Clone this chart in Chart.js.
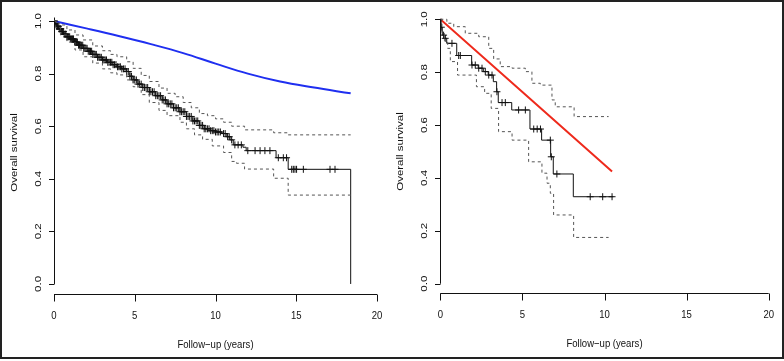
<!DOCTYPE html>
<html>
<head>
<meta charset="utf-8">
<script src="https://cdn.jsdelivr.net/npm/chart.js@4.4.1/dist/chart.umd.min.js"></script>
<style>
html, body { margin: 0; padding: 0; background: #fff; }
.panel { position: absolute; top: 0; width: 392px; height: 361px; }
#frame { position: absolute; left: 0; top: 0; width: 780px; height: 355px; border: 2px solid #222; pointer-events: none; }
</style>
</head>
<body>
<div class="panel" style="left:0"><canvas id="leftChart" width="392" height="361"></canvas></div>
<div class="panel" style="left:392px"><canvas id="rightChart" width="392" height="361"></canvas></div>
<div id="frame"></div>
<script>
// tick labels
const xTicks = [0, 5, 10, 15, 20];
const yTicks = [0, 0.2, 0.4, 0.6, 0.8, 1.0];
const xTitle = 'Follow\u2212up (years)';
const yTitle = 'Overall survival';

// left panel: Kaplan-Meier (drop points), 95% CI, expected survival
const leftTime = [0, 0.05, 0.15, 0.3, 0.45, 0.6, 0.8, 1.0, 1.25, 1.5, 1.8, 2.1, 2.4, 2.7, 3.0, 3.3, 3.6, 3.9, 4.2, 4.5, 4.7, 4.9, 5.2, 5.5, 5.9, 6.3, 6.7, 7.0, 7.4, 7.8, 8.2, 8.6, 9.0, 9.3, 9.7, 10.0, 10.4, 10.7, 10.9, 11.1, 11.7, 11.9, 13.75, 14.5, 18.37, 18.37];
const leftSurv = [1.0, 0.99, 0.98, 0.97, 0.96, 0.95, 0.94, 0.932, 0.92, 0.908, 0.896, 0.885, 0.873, 0.862, 0.852, 0.843, 0.834, 0.826, 0.818, 0.808, 0.79, 0.776, 0.76, 0.747, 0.731, 0.716, 0.7, 0.685, 0.67, 0.655, 0.637, 0.62, 0.603, 0.59, 0.583, 0.578, 0.572, 0.56, 0.548, 0.529, 0.52, 0.507, 0.48, 0.436, 0.436, 0.0];
const leftUpperTime = [0, 0.3, 0.8, 1.3, 1.8, 2.4, 3.0, 3.5, 3.9, 4.5, 4.9, 5.4, 5.9, 6.5, 7.0, 7.5, 8.0, 8.5, 9.0, 9.5, 10.0, 10.5, 11.0, 11.8, 13.6, 14.5, 18.37];
const leftUpper = [1.0, 0.985, 0.966, 0.947, 0.928, 0.905, 0.887, 0.873, 0.864, 0.845, 0.82, 0.793, 0.77, 0.745, 0.725, 0.712, 0.69, 0.67, 0.648, 0.64, 0.628, 0.615, 0.6, 0.586, 0.575, 0.567, 0.567];
const leftLowerTime = [0, 0.1, 0.4, 0.8, 1.3, 1.8, 2.4, 3.0, 3.5, 3.9, 4.5, 4.9, 5.4, 5.9, 6.5, 7.0, 7.8, 8.2, 8.7, 9.2, 9.8, 10.5, 11.0, 11.3, 11.8, 13.6, 14.5, 18.37];
const leftLower = [1.0, 0.975, 0.947, 0.92, 0.89, 0.864, 0.84, 0.818, 0.803, 0.795, 0.776, 0.75, 0.72, 0.69, 0.66, 0.64, 0.615, 0.59, 0.567, 0.55, 0.525, 0.5, 0.466, 0.459, 0.437, 0.402, 0.338, 0.338];
const leftCensor = [0.03, 0.08, 0.12, 0.17, 0.22, 0.27, 0.32, 0.37, 0.42, 0.48, 0.53, 0.58, 0.63, 0.69, 0.74, 0.8, 0.85, 0.91, 0.97, 1.03, 1.09, 1.15, 1.21, 1.27, 1.33, 1.39, 1.45, 1.52, 1.58, 1.65, 1.71, 1.78, 1.84, 1.91, 1.98, 2.05, 2.12, 2.19, 2.26, 2.33, 2.4, 2.48, 2.55, 2.62, 2.7, 2.78, 2.85, 2.93, 3.01, 3.09, 3.17, 3.25, 3.33, 3.41, 3.5, 3.58, 3.66, 3.75, 3.84, 3.93, 4.02, 4.11, 4.2, 4.3, 4.4, 4.5, 4.6, 4.7, 4.8, 4.9, 5.0, 5.1, 5.2, 5.3, 5.4, 5.5, 5.6, 5.7, 5.8, 5.9, 6.0, 6.1, 6.2, 6.3, 6.4, 6.5, 6.6, 6.7, 6.8, 6.9, 7.0, 7.1, 7.2, 7.3, 7.4, 7.5, 7.6, 7.7, 7.8, 7.9, 8.0, 8.1, 8.2, 8.3, 8.4, 8.5, 8.6, 8.7, 8.8, 8.9, 9.0, 9.1, 9.2, 9.3, 9.4, 9.5, 9.6, 9.7, 9.8, 9.9, 10.0, 10.1, 10.2, 10.3, 10.5, 10.6, 10.75, 10.85, 11.0, 11.2, 11.4, 11.6, 12.0, 12.45, 12.76, 13.06, 13.37, 13.89, 14.2, 14.4, 14.72, 14.82, 14.92, 15.02, 15.44, 17.09, 17.4];
const leftExpTime = [0, 2, 4, 6, 8, 10, 12, 14, 16, 18.37];
const leftExp = [1.0, 0.972, 0.943, 0.912, 0.878, 0.838, 0.8, 0.77, 0.748, 0.725];

// right panel
const rightTime = [0, 0.05, 0.12, 0.29, 0.39, 1.0, 1.91, 2.31, 2.62, 2.92, 3.23, 3.43, 3.53, 4.35, 5.46, 6.17, 6.72, 6.88, 8.1, 10.54];
const rightSurv = [1.0, 0.97, 0.94, 0.928, 0.909, 0.863, 0.827, 0.815, 0.802, 0.789, 0.764, 0.726, 0.685, 0.657, 0.585, 0.543, 0.48, 0.415, 0.329, 0.329];
const rightUpperTime = [0, 0.4, 0.82, 1.52, 2.34, 2.95, 3.25, 3.65, 4.37, 5.18, 5.58, 6.09, 6.8, 7.0, 8.15, 10.25];
const rightUpper = [1.0, 0.985, 0.972, 0.947, 0.934, 0.89, 0.85, 0.821, 0.815, 0.802, 0.758, 0.751, 0.695, 0.669, 0.632, 0.632];
const rightLowerTime = [0, 0.1, 0.25, 0.45, 0.61, 1.05, 2.2, 2.7, 3.1, 3.55, 4.37, 5.38, 6.19, 6.5, 6.7, 6.9, 8.12, 10.25];
const rightLower = [1.0, 0.95, 0.92, 0.89, 0.84, 0.789, 0.745, 0.72, 0.663, 0.575, 0.543, 0.461, 0.418, 0.38, 0.342, 0.26, 0.175, 0.175];
const rightCensor = [0.06, 0.2, 0.3, 0.71, 1.12, 1.22, 1.93, 2.13, 2.34, 2.54, 2.74, 2.95, 3.15, 3.45, 3.76, 3.96, 4.77, 5.18, 5.69, 5.9, 6.1, 6.7, 6.76, 7.1, 9.13, 9.89, 10.46];
const rightExpTime = [0, 5, 10.46];
const rightExp = [1.0, 0.725, 0.424];

function pts(xs, ys) {
    return xs.map((t, i) => ({ x: t, y: ys[i] }));
}

// survival value at time t from a step curve
function survAt(xs, ys, t) {
    let s = ys[0];
    for (let i = 0; i < xs.length; i++) {
        if (xs[i] <= t) s = ys[i]; else break;
    }
    return s;
}

function squeezedText(ctx, s, x, y, rotate) {
    ctx.save();
    ctx.translate(x, y);
    ctx.scale(0.83, 1);
    if (rotate) ctx.rotate(-Math.PI / 2);
    ctx.textAlign = 'center';
    ctx.textBaseline = 'middle';
    ctx.fillText(s, 0, 0);
    ctx.restore();
}

// R style axes drawn from the chart scales
const rAxes = {
    id: 'rAxes',
    afterDraw(chart) {
        const ctx = chart.ctx;
        const xs = chart.scales.x, ys = chart.scales.y;
        const bottom = Math.round(chart.chartArea.bottom) - 0.5;
        const left = Math.round(xs.getPixelForValue(0)) + 0.5;
        ctx.save();
        ctx.strokeStyle = '#111';
        ctx.lineWidth = 1;
        ctx.beginPath();
        ctx.moveTo(xs.getPixelForValue(xTicks[0]), bottom);
        ctx.lineTo(xs.getPixelForValue(xTicks[xTicks.length - 1]), bottom);
        xTicks.forEach(v => {
            const px = Math.round(xs.getPixelForValue(v)) + 0.5;
            ctx.moveTo(px, bottom);
            ctx.lineTo(px, bottom + 7);
        });
        ctx.moveTo(left, ys.getPixelForValue(yTicks[0]));
        ctx.lineTo(left, ys.getPixelForValue(yTicks[yTicks.length - 1]));
        yTicks.forEach(v => {
            const py = Math.round(ys.getPixelForValue(v)) + 0.5;
            ctx.moveTo(left - 5.5, py);
            ctx.lineTo(left, py);
        });
        ctx.stroke();

        ctx.fillStyle = '#111';
        ctx.font = '11.5px "Liberation Sans", Arial, sans-serif';
        xTicks.forEach(v => squeezedText(ctx, String(v), xs.getPixelForValue(v), bottom + 21.5, false));
        yTicks.forEach(v => squeezedText(ctx, v.toFixed(1), left - 16.5, ys.getPixelForValue(v), true));
        const midX = (xs.getPixelForValue(xTicks[0]) + xs.getPixelForValue(xTicks[xTicks.length - 1])) / 2;
        const midY = (ys.getPixelForValue(0) + ys.getPixelForValue(1)) / 2;
        squeezedText(ctx, xTitle, midX, bottom + 50, false);
        squeezedText(ctx, yTitle, left - 40.5, midY, true);
        ctx.restore();
    }
};

function makeChart(id, km, upper, lower, censor, expected, expColor, expTension, pad, yMin, yMax) {
    const ctx = document.getElementById(id).getContext('2d');
    const [kmT, kmS] = km;
    new Chart(ctx, {
        type: 'line',
        data: {
            datasets: [
                {
                    data: pts(upper[0], upper[1]),
                    borderColor: '#555',
                    borderWidth: 1,
                    borderDash: [3, 3],
                    stepped: 'before',
                    pointRadius: 0
                },
                {
                    data: pts(lower[0], lower[1]),
                    borderColor: '#555',
                    borderWidth: 1,
                    borderDash: [3, 3],
                    stepped: 'before',
                    pointRadius: 0
                },
                {
                    data: pts(kmT, kmS),
                    borderColor: '#111',
                    borderWidth: 1,
                    stepped: 'before',
                    pointRadius: 0
                },
                {
                    data: censor.map(t => ({ x: t, y: survAt(kmT, kmS, t) })),
                    showLine: false,
                    pointStyle: 'cross',
                    pointRadius: 3.5,
                    borderColor: '#111',
                    borderWidth: 1
                },
                {
                    data: pts(expected[0], expected[1]),
                    borderColor: expColor,
                    borderWidth: 2,
                    tension: expTension,
                    pointRadius: 0
                }
            ]
        },
        options: {
            responsive: false,
            animation: false,
            layout: { padding: pad },
            plugins: { legend: { display: false }, tooltip: { enabled: false } },
            scales: {
                x: { type: 'linear', min: 0, max: 20, display: false },
                y: { type: 'linear', min: yMin, max: yMax, display: false }
            }
        },
        plugins: [rAxes]
    });
}

makeChart('leftChart', [leftTime, leftSurv], [leftUpperTime, leftUpper], [leftLowerTime, leftLower],
    leftCensor, [leftExpTime, leftExp], '#1f2ff0', 0.4,
    { left: 54, right: 15, top: 10.5, bottom: 66 }, -0.042, 1.04);

makeChart('rightChart', [rightTime, rightSurv], [rightUpperTime, rightUpper], [rightLowerTime, rightLower],
    rightCensor, [rightExpTime, rightExp], '#ee2a1c', 0,
    { left: 48.3, right: 15.3, top: 8.7, bottom: 66.7 }, -0.040, 1.04);
</script>
</body>
</html>
